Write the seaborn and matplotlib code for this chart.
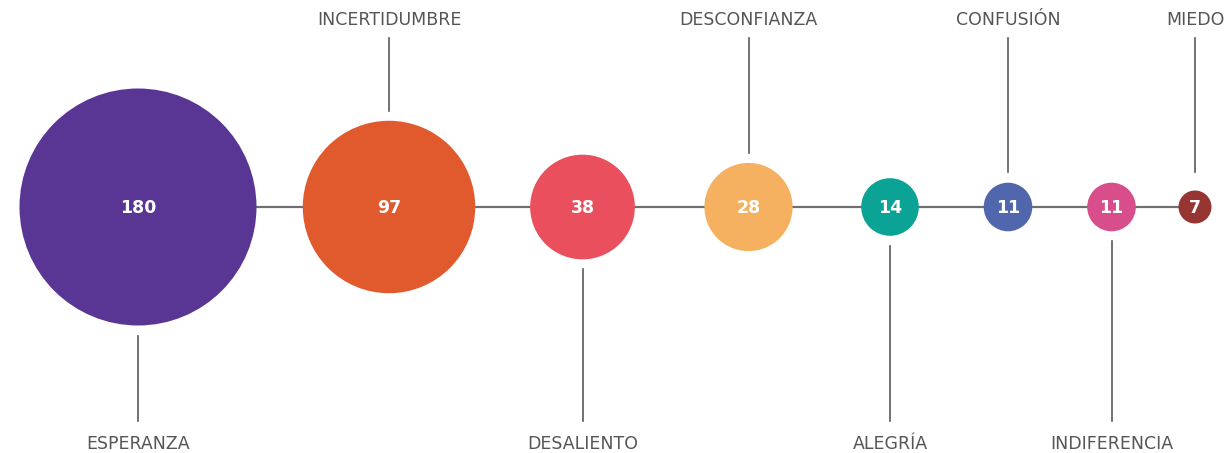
import numpy as np
import pandas as pd
import matplotlib
matplotlib.use("Agg")
import matplotlib.pyplot as plt
import seaborn as sns

# data
emotions = ["ESPERANZA", "INCERTIDUMBRE", "DESALIENTO", "DESCONFIANZA",
            "ALEGRÍA", "CONFUSIÓN", "INDIFERENCIA", "MIEDO"]
counts = [180, 97, 38, 28, 14, 11, 11, 7]
colors = ["#5a3694", "#e05a2e", "#e94f5d", "#f5b15f",
          "#0aa396", "#5067ae", "#d84e8b", "#963532"]

# layout (figure pixels, y grows downward)
W, H, DPI = 1231, 453, 100
x_pos = [138, 389, 582.5, 748.5, 890, 1008, 1111.5, 1195]
label_side = ["bottom", "top"] * 4
AXIS_Y = 207
R_MIN, R_MAX = 16.5, 118.5  # radius in px for min / max count
PT = 72 / DPI
sizes = ((2 * R_MIN * PT) ** 2, (2 * R_MAX * PT) ** 2)
size_norm = (min(counts), max(counts))

plt.rcParams["font.family"] = ["DejaVu Sans"]

df = pd.DataFrame({"emotion": emotions, "count": counts, "x": x_pos})
df["y"] = AXIS_Y

fig = plt.figure(figsize=(W / DPI, H / DPI), dpi=DPI)
ax = fig.add_axes([0, 0, 1, 1])
ax.set_xlim(0, W)
ax.set_ylim(H, 0)
ax.axis("off")

# baseline connecting the bubbles
ax.plot([x_pos[0], x_pos[-1]], [AXIS_Y, AXIS_Y], color="#6f6f6f", lw=1.6, zorder=1)

sns.scatterplot(data=df, x="x", y="y", hue="emotion", palette=colors,
                size="count", sizes=sizes, size_norm=size_norm,
                linewidth=0, alpha=1, legend=False, ax=ax, zorder=2)


def radius_px(v):
    area = sizes[0] + (v - size_norm[0]) / (size_norm[1] - size_norm[0]) * (sizes[1] - sizes[0])
    return np.sqrt(area) / PT / 2


for name, v, x, side in zip(emotions, counts, x_pos, label_side):
    r = radius_px(v)
    ax.text(x, AXIS_Y + 1, str(v), ha="center", va="center", color="white",
            fontsize=12.5, fontweight="bold", zorder=3)
    if side == "top":
        y_end = min(AXIS_Y - r - 10, 172)
        ax.plot([x, x], [38, y_end], color="#5a5a5a", lw=1.2, zorder=1)
        ax.text(x, 20, name, ha="center", va="center", color="#555555", fontsize=12.5)
    else:
        y_start = AXIS_Y + r + 10
        ax.plot([x, x], [y_start, 421], color="#5a5a5a", lw=1.2, zorder=1)
        ax.text(x, 444, name, ha="center", va="center", color="#555555", fontsize=12.5)

fig.savefig("out.png", dpi=DPI)
